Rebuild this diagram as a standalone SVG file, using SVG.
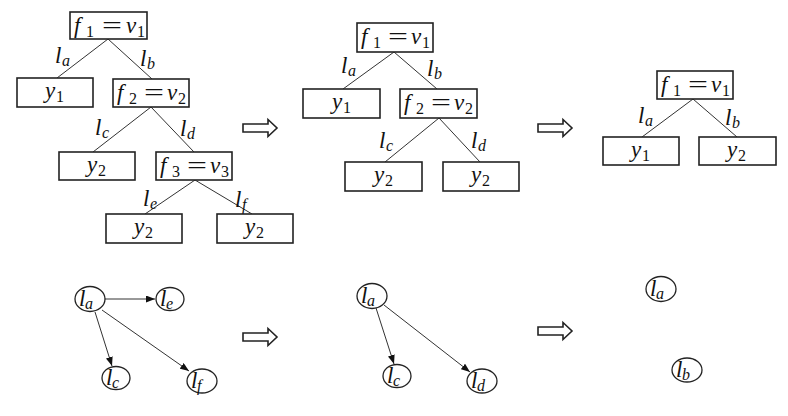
<svg xmlns="http://www.w3.org/2000/svg" width="788" height="416" viewBox="0 0 788 416">
<defs>
<style>
.box{fill:#fff;stroke:#222;stroke-width:1.6}
.e{stroke:#333;stroke-width:1;fill:none}
.ea{stroke:#333;stroke-width:1;fill:none;marker-end:url(#ah)}
.c{fill:#fff;stroke:#222;stroke-width:1.3}
.m{font-family:"Liberation Serif","DejaVu Serif",serif;font-style:italic;font-size:23px;fill:#111}
.r{font-family:"Liberation Serif","DejaVu Serif",serif;font-size:23px;fill:#111}
.s{font-family:"Liberation Serif","DejaVu Serif",serif;font-size:16px;fill:#111}
.si{font-family:"Liberation Serif","DejaVu Serif",serif;font-style:italic;font-size:16px;fill:#111}
.big{fill:#fff;stroke:#222;stroke-width:1.6;stroke-linejoin:miter}
</style>
<marker id="ah" markerWidth="9" markerHeight="7" refX="9" refY="3.5" orient="auto" markerUnits="userSpaceOnUse">
<path d="M0,0 L9,3.5 L0,7 z" fill="#111"/>
</marker>
<path id="arr" d="M0,-4 L25,-4 L25,-8.5 L34,0 L25,8.5 L25,4 L0,4 z"/>
</defs>

<g id="connectors">
<!-- tree 1 -->
<line class="e" x1="108" y1="39" x2="57" y2="78"/>
<line class="e" x1="108" y1="39" x2="152" y2="79"/>
<line class="e" x1="151" y1="107" x2="93" y2="152"/>
<line class="e" x1="151" y1="107" x2="194" y2="152"/>
<line class="e" x1="195" y1="180" x2="145" y2="214"/>
<line class="e" x1="195" y1="180" x2="252" y2="214"/>
<!-- tree 2 -->
<line class="e" x1="394" y1="52" x2="343" y2="89"/>
<line class="e" x1="394" y1="52" x2="437" y2="89"/>
<line class="e" x1="439" y1="118" x2="385" y2="162"/>
<line class="e" x1="439" y1="118" x2="480" y2="162"/>
<!-- tree 3 -->
<line class="e" x1="693" y1="99" x2="642" y2="137"/>
<line class="e" x1="693" y1="99" x2="737" y2="137"/>
<!-- graph 1 -->
<line class="ea" x1="105" y1="299" x2="155" y2="299"/>
<line class="ea" x1="95" y1="312" x2="112" y2="366"/>
<line class="ea" x1="102" y1="310" x2="189" y2="371"/>
<!-- graph 2 -->
<line class="ea" x1="376" y1="308" x2="394" y2="364"/>
<line class="ea" x1="384" y1="305" x2="470" y2="372"/>
</g>

<g id="edge-labels">
<text class="m" x="55" y="63">l</text><text class="si" x="62" y="66">a</text>
<text class="m" x="140" y="66">l</text><text class="si" x="147" y="69">b</text>
<text class="m" x="95" y="135">l</text><text class="si" x="102" y="138">c</text>
<text class="m" x="180" y="136">l</text><text class="si" x="187" y="139">d</text>
<text class="m" x="143" y="206">l</text><text class="si" x="150" y="209">e</text>
<text class="m" x="235" y="207">l</text><text class="si" x="242" y="210">f</text>

<text class="m" x="341" y="73">l</text><text class="si" x="348" y="76">a</text>
<text class="m" x="427" y="76">l</text><text class="si" x="434" y="79">b</text>
<text class="m" x="379" y="148">l</text><text class="si" x="386" y="151">c</text>
<text class="m" x="471" y="148">l</text><text class="si" x="478" y="151">d</text>

<text class="m" x="638" y="123">l</text><text class="si" x="645" y="126">a</text>
<text class="m" x="725" y="125">l</text><text class="si" x="732" y="128">b</text>
</g>

<!-- Tree 1 -->
<g id="t1-root">
<rect class="box" x="70" y="12" width="77" height="27"/>
<text class="m" x="74" y="33">f</text><text class="s" x="86" y="37">1</text>
<text class="r" x="102" y="33" textLength="20" lengthAdjust="spacingAndGlyphs">=</text>
<text class="m" x="126" y="33">v</text><text class="s" x="137" y="37">1</text>
</g>
<g id="t1-y1">
<rect class="box" x="17" y="78" width="76" height="29"/>
<text class="m" x="45" y="98">y</text><text class="s" x="56" y="102">1</text>
</g>
<g id="t1-f2">
<rect class="box" x="113" y="79" width="76" height="28"/>
<text class="m" x="117" y="100">f</text><text class="s" x="129" y="104">2</text>
<text class="r" x="144" y="100" textLength="20" lengthAdjust="spacingAndGlyphs">=</text>
<text class="m" x="167" y="100">v</text><text class="s" x="178" y="104">2</text>
</g>
<g id="t1-y2a">
<rect class="box" x="59" y="152" width="76" height="28"/>
<text class="m" x="87" y="172">y</text><text class="s" x="98" y="176">2</text>
</g>
<g id="t1-f3">
<rect class="box" x="156" y="152" width="76" height="28"/>
<text class="m" x="160" y="173">f</text><text class="s" x="172" y="177">3</text>
<text class="r" x="187" y="173" textLength="20" lengthAdjust="spacingAndGlyphs">=</text>
<text class="m" x="210" y="173">v</text><text class="s" x="221" y="177">3</text>
</g>
<g id="t1-y2b">
<rect class="box" x="106" y="214" width="76" height="29"/>
<text class="m" x="134" y="234">y</text><text class="s" x="145" y="238">2</text>
</g>
<g id="t1-y2c">
<rect class="box" x="217" y="214" width="76" height="29"/>
<text class="m" x="245" y="234">y</text><text class="s" x="256" y="238">2</text>
</g>

<!-- Tree 2 -->
<g id="t2-root">
<rect class="box" x="357" y="23" width="76" height="29"/>
<text class="m" x="361" y="44">f</text><text class="s" x="373" y="48">1</text>
<text class="r" x="388" y="44" textLength="20" lengthAdjust="spacingAndGlyphs">=</text>
<text class="m" x="411" y="44">v</text><text class="s" x="422" y="48">1</text>
</g>
<g id="t2-y1">
<rect class="box" x="303" y="89" width="77" height="29"/>
<text class="m" x="332" y="109">y</text><text class="s" x="343" y="113">1</text>
</g>
<g id="t2-f2">
<rect class="box" x="400" y="89" width="77" height="29"/>
<text class="m" x="404" y="110">f</text><text class="s" x="416" y="114">2</text>
<text class="r" x="431" y="110" textLength="20" lengthAdjust="spacingAndGlyphs">=</text>
<text class="m" x="454" y="110">v</text><text class="s" x="465" y="114">2</text>
</g>
<g id="t2-y2a">
<rect class="box" x="345" y="162" width="77" height="29"/>
<text class="m" x="374" y="182">y</text><text class="s" x="385" y="186">2</text>
</g>
<g id="t2-y2b">
<rect class="box" x="443" y="162" width="76" height="29"/>
<text class="m" x="471" y="182">y</text><text class="s" x="482" y="186">2</text>
</g>

<!-- Tree 3 -->
<g id="t3-root">
<rect class="box" x="657" y="71" width="76" height="28"/>
<text class="m" x="661" y="92">f</text><text class="s" x="673" y="96">1</text>
<text class="r" x="688" y="92" textLength="20" lengthAdjust="spacingAndGlyphs">=</text>
<text class="m" x="711" y="92">v</text><text class="s" x="722" y="96">1</text>
</g>
<g id="t3-y1">
<rect class="box" x="603" y="137" width="76" height="28"/>
<text class="m" x="631" y="157">y</text><text class="s" x="642" y="161">1</text>
</g>
<g id="t3-y2">
<rect class="box" x="699" y="137" width="77" height="28"/>
<text class="m" x="727" y="157">y</text><text class="s" x="738" y="161">2</text>
</g>

<!-- Graph 1 -->
<g id="g1-la"><ellipse class="c" cx="90" cy="299" rx="15" ry="12.5"/><text class="m" x="79" y="306">l</text><text class="si" x="85" y="309">a</text></g>
<g id="g1-le"><ellipse class="c" cx="170" cy="299" rx="14" ry="11.5"/><text class="m" x="160" y="306">l</text><text class="si" x="166" y="309">e</text></g>
<g id="g1-lc"><ellipse class="c" cx="116" cy="378" rx="14" ry="11.5"/><text class="m" x="106" y="385">l</text><text class="si" x="112" y="388">c</text></g>
<g id="g1-lf"><ellipse class="c" cx="202" cy="381" rx="15" ry="12"/><text class="m" x="191" y="388">l</text><text class="si" x="197" y="391">f</text></g>

<!-- Graph 2 -->
<g id="g2-la"><ellipse class="c" cx="372" cy="296" rx="15" ry="12.5"/><text class="m" x="361" y="303">l</text><text class="si" x="367" y="306">a</text></g>
<g id="g2-lc"><ellipse class="c" cx="397" cy="376" rx="14" ry="11.5"/><text class="m" x="387" y="383">l</text><text class="si" x="393" y="386">c</text></g>
<g id="g2-ld"><ellipse class="c" cx="482" cy="381" rx="15" ry="12"/><text class="m" x="471" y="388">l</text><text class="si" x="477" y="391">d</text></g>

<!-- Graph 3 -->
<g id="g3-la"><ellipse class="c" cx="661" cy="289" rx="15" ry="12.5"/><text class="m" x="650" y="296">l</text><text class="si" x="656" y="299">a</text></g>
<g id="g3-lb"><ellipse class="c" cx="687" cy="370" rx="15" ry="12"/><text class="m" x="676" y="377">l</text><text class="si" x="682" y="380">b</text></g>

<!-- Hollow arrows -->
<g id="arrows">
<use href="#arr" class="big" x="243" y="128"/>
<use href="#arr" class="big" x="538" y="128"/>
<use href="#arr" class="big" x="243" y="337"/>
<use href="#arr" class="big" x="538" y="331"/>
</g>
</svg>
